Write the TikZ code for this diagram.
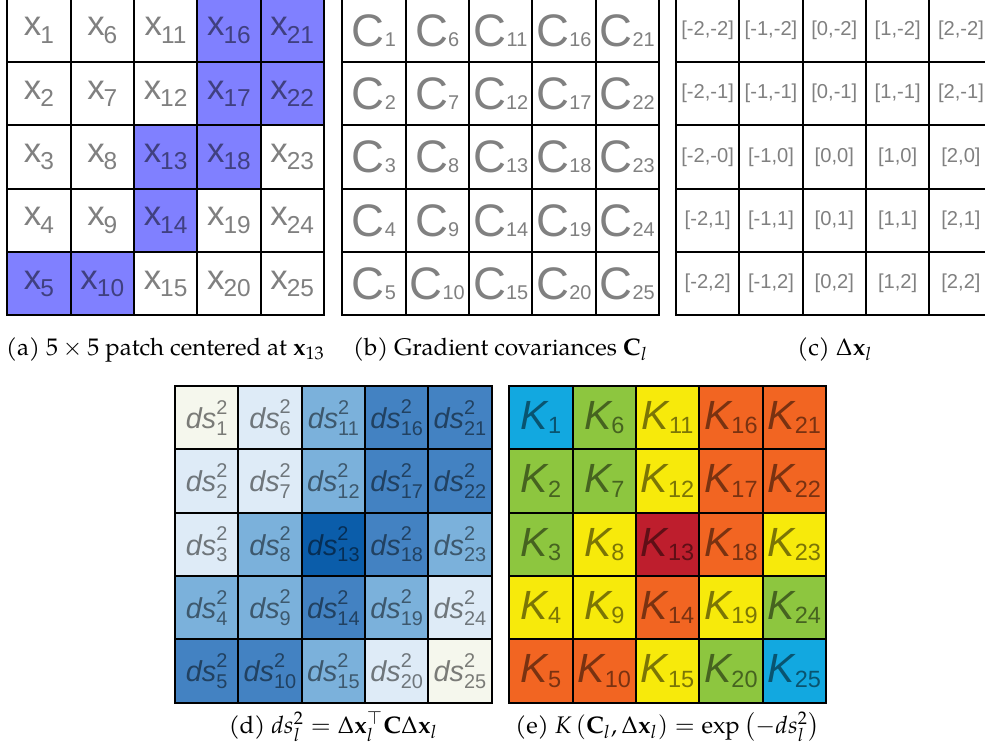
\documentclass[tikz,border=0pt]{standalone}
\usepackage{mathpazo}
\usepackage{fontspec}
\setmainfont{texgyrepagella}[Extension=.otf, UprightFont=*-regular, BoldFont=*-bold,
  ItalicFont=*-italic, BoldItalicFont=*-bolditalic]
\newfontfamily\cellfont{Liberation Sans}

\definecolor{patchblue}{RGB}{128,128,255}
\definecolor{dsA}{RGB}{245,247,237}
\definecolor{dsB}{RGB}{222,235,247}
\definecolor{dsC}{RGB}{123,177,219}
\definecolor{dsD}{RGB}{67,130,194}
\definecolor{dsE}{RGB}{11,93,170}
\definecolor{kA}{RGB}{18,168,224}
\definecolor{kB}{RGB}{141,198,63}
\definecolor{kC}{RGB}{247,234,11}
\definecolor{kD}{RGB}{242,101,34}
\definecolor{kE}{RGB}{190,30,45}
\colorlet{pA}{white}
\colorlet{pB}{white}
\colorlet{pC}{white}
\colorlet{pD}{patchblue}
\colorlet{pE}{patchblue}

\newcommand\xlab[1]{{\fontsize{14.5}{14.5}\selectfont x}\kern-0.4pt\raisebox{-3pt}{\fontsize{10.2}{10.2}\selectfont #1}}
\newcommand\clab[1]{{\fontsize{19}{19}\selectfont C}{\fontsize{8.3}{8.3}\selectfont #1}}
\newcommand\dslab[1]{{\fontsize{12}{12}\selectfont\itshape ds}\rlap{\raisebox{6pt}{\fontsize{8.3}{8.3}\selectfont 2}}\raisebox{-2.8pt}{\fontsize{8.3}{8.3}\selectfont #1}}
\newcommand\klab[1]{{\fontsize{17}{17}\selectfont\itshape K}\raisebox{-1.8pt}{\fontsize{9.8}{9.8}\selectfont #1}}

\tikzset{
  cell/.style={draw=black, line width=0.8pt, minimum width=26.4pt, minimum height=26.4pt,
    inner sep=0pt, font=\cellfont},
  subcap/.style={anchor=base, inner sep=0pt, font=\normalsize},
}

\begin{document}
\begin{tikzpicture}[x=0.417pt, y=-0.417pt]
  \useasboundingbox (0,0) rectangle (985,748);
  % one pass per cell, numbered down the columns
  \foreach \lv [count=\i from 0] in {A,B,B,C,D,B,B,C,C,D,C,C,E,D,C,D,D,D,C,B,D,D,C,B,A} {
    \pgfmathtruncatemacro\col{int(\i/5)}
    \pgfmathtruncatemacro\row{mod(\i,5)}
    \pgfmathtruncatemacro\n{\i+1}
    \pgfmathtruncatemacro\dx{\col-2}
    \pgfmathtruncatemacro\dy{\row-2}
    \pgfmathsetmacro\cx{(\col+0.5)*63.33}
    \pgfmathsetmacro\cy{(\row+0.5)*63.33}
    \node[cell, fill=p\lv, text=p\lv!50!black] (x\n) at (7.3+\cx, -1.3+\cy) {\xlab{\n}};
    \node[cell, fill=white, text=gray] (c\n) at (342.3+\cx, -1.3+\cy) {\clab{\n}};
    \node[cell, fill=white, text=gray, font=\cellfont\fontsize{8.4}{8.4}\selectfont] (off\n) at (676+\cx, -1.3+\cy)
      {[\dx,\ifnum\n=3 -0\else\dy\fi]};
    \node[cell, fill=ds\lv, text=ds\lv!50!black] (ds\n) at (175+\cx, 386+\cy) {\dslab{\n}};
    \node[cell, fill=k\lv, text=k\lv!50!black] (k\n) at (509.3+\cx, 386+\cy) {\klab{\n}};
  }
  % captions
  \node[subcap] (capa) at (165.6,355) {(a) $5\times5$ patch centered at $\mathbf{x}_{13}$};
  \node[subcap] (capb) at (500.6,355) {(b) Gradient covariances $\mathbf{C}_l$};
  \node[subcap] (capc) at (835,355) {(c) $\Delta\mathbf{x}_l$};
  \node[subcap] (capd) at (333.3,733) {(d) $ds_l^2=\Delta\mathbf{x}_l^\top\mathbf{C}\Delta\mathbf{x}_l$};
  \node[subcap] (cape) at (667.6,733) {(e) $K\left(\mathbf{C}_l,\Delta\mathbf{x}_l\right)=\exp\left(-ds_l^2\right)$};
\end{tikzpicture}
\end{document}
